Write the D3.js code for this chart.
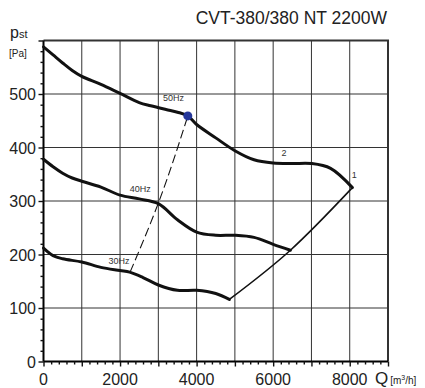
<!DOCTYPE html>
<html>
<head>
<meta charset="utf-8">
<script src="https://cdn.jsdelivr.net/npm/d3@7/dist/d3.min.js"></script>
<style>
  body { margin: 0; background: #fff; }
  text { font-family: "Liberation Sans", Arial, sans-serif; }
</style>
</head>
<body>
<svg id="chart" width="425" height="388"></svg>
<script>
// fan curves, Q in m3/h, p in Pa
const curve50 = [[0, 588], [250, 573], [500, 558], [750, 544], [1000, 533], [1500, 518], [2000, 501], [2500, 484], [2800, 478], [3200, 471], [3500, 466], [3770, 459], [4000, 443], [4500, 418], [5000, 394], [5500, 377], [6000, 371], [6500, 370], [7000, 370], [7500, 361], [8070, 325]];
const curve40 = [[0, 378], [250, 364], [500, 352], [750, 343], [1000, 337], [1500, 326], [2000, 311], [2500, 304], [3000, 295], [3500, 265], [4000, 242], [4500, 236], [5000, 236], [5500, 232], [6000, 219], [6450, 208]];
const curve30 = [[0, 212], [250, 198], [500, 192], [1000, 186], [1500, 176], [2000, 170], [2250, 167], [2600, 157], [3000, 143], [3500, 133], [4000, 133], [4500, 127], [4855, 116]];
const limitLine = [[4855, 116], [6450, 208], [8070, 325]];
const dashLine = [[2262, 167], [3000, 296], [3770, 459]];
const dotPoint = [3770, 459];
const xTicks = [0, 2000, 4000, 6000, 8000];
const yTicks = [0, 100, 200, 300, 400, 500];
const curveLabels = [
  { text: "50Hz", q: 3120, p: 487 },
  { text: "40Hz", q: 2250, p: 316 },
  { text: "30Hz", q: 1700, p: 183 },
  { text: "2", q: 6220, p: 384 },
  { text: "1", q: 8050, p: 343 }
];

const svg = d3.select("#chart");
const x = d3.scaleLinear().domain([0, 9000]).range([43.5, 388]);
const y = d3.scaleLinear().domain([0, 600]).range([361.5, 40.5]);

// grid
svg.append("g").selectAll("line").data(d3.range(1000, 9000, 1000)).enter()
  .append("line")
  .attr("x1", d => x(d)).attr("x2", d => x(d))
  .attr("y1", y(0)).attr("y2", y(600))
  .attr("stroke", "#333").attr("stroke-width", 1);
svg.append("g").selectAll("line").data(d3.range(100, 600, 100)).enter()
  .append("line")
  .attr("x1", x(0)).attr("x2", x(9000))
  .attr("y1", d => y(d)).attr("y2", d => y(d))
  .attr("stroke", "#333").attr("stroke-width", 1);

// frame top and right
svg.append("path")
  .attr("d", `M${x(0)},${y(600)}H${x(9000)}V${y(0)}`)
  .attr("fill", "none").attr("stroke", "#333").attr("stroke-width", 2);

// axes
const xAxis = svg.append("g").attr("transform", `translate(0,${y(0)})`)
  .call(d3.axisBottom(x).tickValues(d3.range(0, 9001, 200)).tickSize(3).tickFormat(""));
xAxis.selectAll(".tick line").filter(d => d % 1000 === 0).attr("y2", 5);
xAxis.select(".domain").attr("stroke-width", 2).attr("d", `M${x(0)},0H${x(9000)}`);
xAxis.selectAll("line").attr("stroke", "#111").attr("stroke-width", 1.4);

const yAxis = svg.append("g").attr("transform", `translate(${x(0)},0)`)
  .call(d3.axisLeft(y).tickValues(d3.range(0, 601, 20)).tickSize(3).tickFormat(""));
yAxis.selectAll(".tick line").filter(d => d % 100 === 0).attr("x2", -5);
yAxis.select(".domain").attr("stroke-width", 2).attr("d", `M0,${y(0)}V${y(600)}`);
yAxis.selectAll("line").attr("stroke", "#111").attr("stroke-width", 1.4);

// tick labels
svg.append("g").selectAll("text").data(xTicks).enter()
  .append("text")
  .attr("x", d => x(d)).attr("y", 385)
  .attr("text-anchor", "middle").attr("font-size", 16).attr("fill", "#222")
  .text(d => d);
svg.append("g").selectAll("text").data(yTicks).enter()
  .append("text")
  .attr("x", 36).attr("y", d => y(d) + 6)
  .attr("text-anchor", "end").attr("font-size", 16).attr("fill", "#222")
  .text(d => d);

// axis titles
const qt = svg.append("text").attr("x", 375).attr("y", 384).attr("fill", "#222");
qt.append("tspan").attr("font-size", 17).text("Q");
qt.append("tspan").attr("font-size", 10).attr("dx", 2).text("[m");
qt.append("tspan").attr("font-size", 7).attr("dy", -4).text("3");
qt.append("tspan").attr("font-size", 10).attr("dy", 4).text("/h]");

const pt = svg.append("text").attr("x", 10).attr("y", 38).attr("fill", "#222");
pt.append("tspan").attr("font-size", 16).text("p");
pt.append("tspan").attr("font-size", 11).text("st");
svg.append("text").attr("x", 9).attr("y", 57).attr("font-size", 10).attr("fill", "#222").text("[Pa]");

svg.append("text").attr("x", 387).attr("y", 24).attr("text-anchor", "end")
  .attr("font-size", 17.5).attr("fill", "#222").text("CVT-380/380 NT 2200W");

// curves
const line = d3.line().x(d => x(d[0])).y(d => y(d[1])).curve(d3.curveCatmullRom.alpha(0.5));
[curve50, curve40, curve30].forEach(c => {
  svg.append("path").datum(c).attr("d", line)
    .attr("fill", "none").attr("stroke", "#111").attr("stroke-width", 3)
    .attr("stroke-linecap", "round");
});

svg.append("path").datum(limitLine)
  .attr("d", d3.line().x(d => x(d[0])).y(d => y(d[1])).curve(d3.curveMonotoneX))
  .attr("fill", "none").attr("stroke", "#111").attr("stroke-width", 1.6);

svg.append("path").datum(dashLine)
  .attr("d", d3.line().x(d => x(d[0])).y(d => y(d[1])).curve(d3.curveMonotoneY))
  .attr("fill", "none").attr("stroke", "#111").attr("stroke-width", 1.1)
  .attr("stroke-dasharray", "9,4");

svg.append("circle")
  .attr("cx", x(dotPoint[0])).attr("cy", y(dotPoint[1])).attr("r", 4.5)
  .attr("fill", "#25379a");

svg.append("g").selectAll("text").data(curveLabels).enter()
  .append("text")
  .attr("x", d => x(d.q)).attr("y", d => y(d.p))
  .attr("font-size", 9).attr("fill", "#333")
  .text(d => d.text);
</script>
</body>
</html>
